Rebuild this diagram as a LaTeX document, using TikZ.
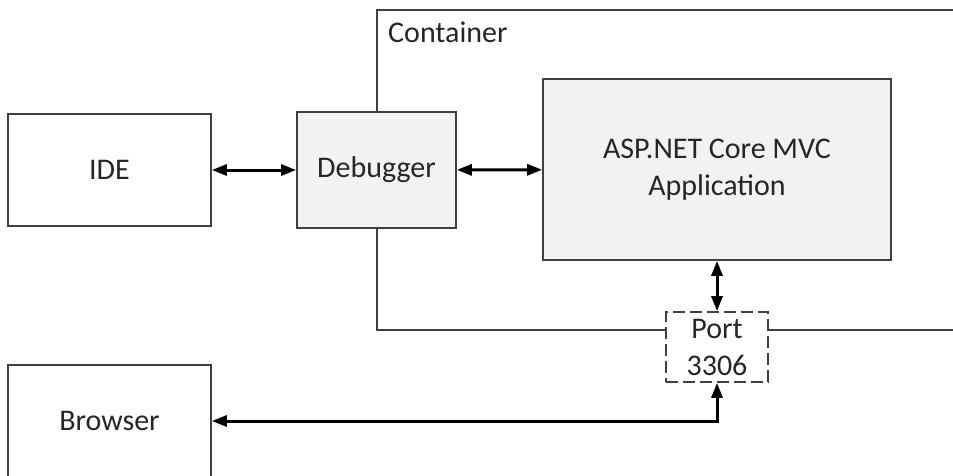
\documentclass[tikz,border=0pt]{standalone}
\usepackage{fontspec}
\setmainfont{Carlito}
\usetikzlibrary{arrows.meta}
\definecolor{boxfill}{RGB}{242,242,242}
\definecolor{boxline}{RGB}{64,64,64}

\begin{document}
\begin{tikzpicture}[x=1pt, y=-1pt, >={Triangle[length=15pt,width=11pt]},
  box/.style={draw=boxline, line width=1.7pt, inner sep=0pt, align=center,
    text=black!85, font=\fontsize{30}{37}\selectfont},
  link/.style={<->, line width=3pt, black}]

  \useasboundingbox (0,0) rectangle (953,475);

  %% ===== CONTAINER =====
  \draw[boxline, line width=1.3pt] (960,10) -- (377,10) -- (377,330) -- (960,330);
  \node[anchor=base west, inner sep=0pt, text=black!85,
    font=\fontsize{30}{37}\selectfont] (containerlabel) at (388,42) {Container};

  %% ===== BOXES =====
  \node[box, minimum width=203, minimum height=112] (ide) at (109.5,170) {IDE};
  \node[box, fill=boxfill, minimum width=159, minimum height=116]
    (debugger) at (376.5,170) {Debugger};
  \node[box, fill=boxfill, minimum width=348, minimum height=181]
    (app) at (717,169.5) {ASP.NET Core MVC\\Application};
  \node[box, fill=white, dash pattern=on 12pt off 5pt, minimum width=102,
    minimum height=70] (port) at (717,347) {Port\\3306};
  \node[box, minimum width=203, minimum height=112] (browser) at (109.5,421) {Browser};

  %% ===== ARROWS =====
  \draw[link] (ide) -- (debugger);
  \draw[link] (debugger) -- (app);
  \draw[link] (app) -- (port);
  \draw[link] (browser.east) -| (port.south);

\end{tikzpicture}
\end{document}
